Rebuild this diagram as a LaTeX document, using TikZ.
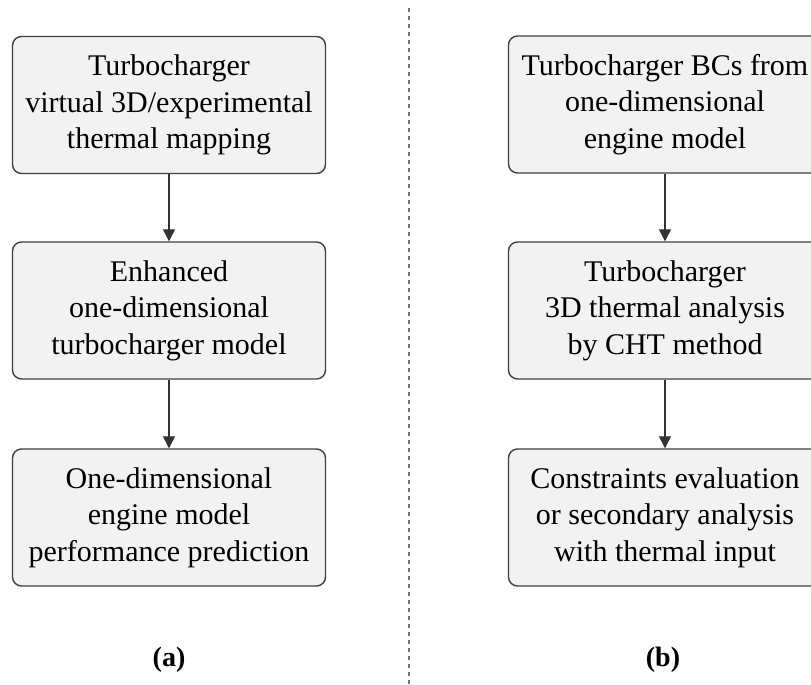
\documentclass[tikz,border=0pt]{standalone}
\usepackage{fontspec}
\setmainfont{Liberation Serif}
\usetikzlibrary{arrows.meta}
\definecolor{boxfill}{HTML}{F2F2F2}
\definecolor{boxline}{HTML}{404040}
\tikzset{
  stepbox/.style={draw=boxline, line width=1.4pt, fill=boxfill, rounded corners=9pt,
    minimum width=313pt, minimum height=137pt, align=center, inner sep=0pt,
    font=\fontsize{30}{36.5}\selectfont},
  flow/.style={draw=black!80, line width=1.2pt, -{Triangle[length=12pt,width=12pt]}},
  caption/.style={font=\fontsize{28}{30}\selectfont\bfseries},
  divider/.style={draw=black!55, line width=1.2pt, dash pattern=on 4pt off 4pt}
}
\begin{document}
\begin{tikzpicture}[x=1pt,y=-1pt]
\useasboundingbox (0,0) rectangle (811,685);
\clip (0,0) rectangle (811,685);
% column (a)
\node[stepbox] (a1) at (169,105) {Turbocharger\\virtual 3D/experimental\\thermal mapping};
\node[stepbox] (a2) at (169,310.5) {Enhanced\\one-dimensional\\turbocharger model};
\node[stepbox] (a3) at (169,517.5) {One-dimensional\\engine model\\performance prediction};
\draw[flow] (a1) -- (a2);
\draw[flow] (a2) -- (a3);
\node[caption] (la) at (169,660) {(a)};
% separator
\coordinate (dtop) at (409,8);
\coordinate (dbot) at (409,685);
\draw[divider] (dtop) -- (dbot);
% column (b)
\node[stepbox] (b1) at (665,104.5) {Turbocharger BCs from\\one-dimensional\\engine model};
\node[stepbox] (b2) at (665,310.5) {Turbocharger\\3D thermal analysis\\by CHT method};
\node[stepbox] (b3) at (665,517.5) {Constraints evaluation\\or secondary analysis\\with thermal input};
\draw[flow] (b1) -- (b2);
\draw[flow] (b2) -- (b3);
\node[caption] (lb) at (663,660) {(b)};
\end{tikzpicture}
\end{document}
